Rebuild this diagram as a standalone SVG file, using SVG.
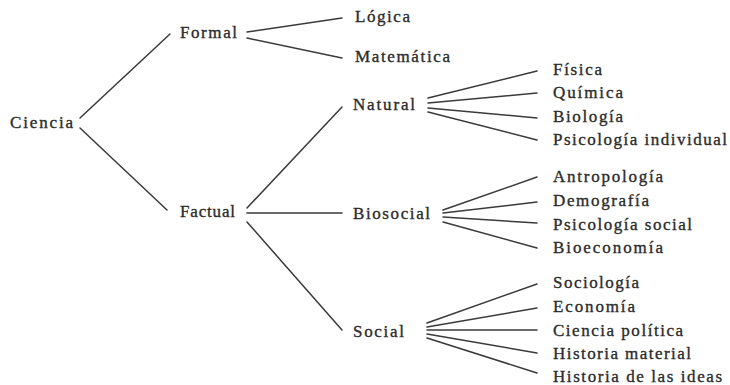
<svg xmlns="http://www.w3.org/2000/svg" width="730" height="385" viewBox="0 0 730 385">
<style>
  .t { font-family: "Liberation Serif", "Times New Roman", serif; font-size: 17px; fill: #2b2b2b; stroke: #2b2b2b; stroke-width: 0.35px; }
  .c line { stroke: #3a3a3a; stroke-width: 1.5; stroke-linecap: round; }
</style>
<rect width="730" height="385" fill="#ffffff"/>
<g id="connectors" class="c">
  <line x1="80" y1="118" x2="170" y2="34"/>
  <line x1="80" y1="128" x2="167" y2="210"/>
  <line x1="247" y1="32" x2="342" y2="18"/>
  <line x1="247" y1="38" x2="342" y2="58"/>
  <line x1="247" y1="208" x2="342" y2="107"/>
  <line x1="247" y1="213" x2="342" y2="213"/>
  <line x1="247" y1="222" x2="342" y2="330"/>
  <line x1="428" y1="98" x2="537" y2="71"/>
  <line x1="428" y1="103" x2="537" y2="93"/>
  <line x1="428" y1="108" x2="537" y2="118"/>
  <line x1="428" y1="112" x2="537" y2="140"/>
  <line x1="443" y1="210" x2="537" y2="177"/>
  <line x1="443" y1="213" x2="537" y2="202"/>
  <line x1="443" y1="217" x2="537" y2="223"/>
  <line x1="443" y1="222" x2="537" y2="248"/>
  <line x1="427" y1="323" x2="537" y2="284"/>
  <line x1="427" y1="327" x2="537" y2="308"/>
  <line x1="427" y1="330" x2="537" y2="330"/>
  <line x1="427" y1="334" x2="537" y2="353"/>
  <line x1="427" y1="338" x2="537" y2="373"/>
</g>
<g id="ciencia"><text class="t" x="10" y="128" textLength="63" lengthAdjust="spacing">Ciencia</text></g>
<g id="formal"><text class="t" x="180" y="38" textLength="57" lengthAdjust="spacing">Formal</text></g>
<g id="factual"><text class="t" x="180" y="217" textLength="55" lengthAdjust="spacing">Factual</text></g>
<g id="logica"><text class="t" x="355" y="22" textLength="55" lengthAdjust="spacing">Lógica</text></g>
<g id="matematica"><text class="t" x="355" y="62" textLength="95" lengthAdjust="spacing">Matemática</text></g>
<g id="natural"><text class="t" x="353" y="110" textLength="62" lengthAdjust="spacing">Natural</text></g>
<g id="biosocial"><text class="t" x="353" y="219" textLength="77" lengthAdjust="spacing">Biosocial</text></g>
<g id="social"><text class="t" x="353" y="337" textLength="51" lengthAdjust="spacing">Social</text></g>
<g id="fisica"><text class="t" x="553" y="75" textLength="49" lengthAdjust="spacing">Física</text></g>
<g id="quimica"><text class="t" x="553" y="98" textLength="70" lengthAdjust="spacing">Química</text></g>
<g id="biologia"><text class="t" x="553" y="122" textLength="70" lengthAdjust="spacing">Biología</text></g>
<g id="psico-ind"><text class="t" x="553" y="145" textLength="174" lengthAdjust="spacing">Psicología individual</text></g>
<g id="antropologia"><text class="t" x="553" y="182" textLength="110" lengthAdjust="spacing">Antropología</text></g>
<g id="demografia"><text class="t" x="553" y="206" textLength="96" lengthAdjust="spacing">Demografía</text></g>
<g id="psico-soc"><text class="t" x="553" y="230" textLength="139" lengthAdjust="spacing">Psicología social</text></g>
<g id="bioeconomia"><text class="t" x="553" y="253" textLength="110" lengthAdjust="spacing">Bioeconomía</text></g>
<g id="sociologia"><text class="t" x="553" y="288" textLength="86" lengthAdjust="spacing">Sociología</text></g>
<g id="economia"><text class="t" x="553" y="312" textLength="82" lengthAdjust="spacing">Economía</text></g>
<g id="ciencia-pol"><text class="t" x="553" y="336" textLength="130" lengthAdjust="spacing">Ciencia política</text></g>
<g id="hist-mat"><text class="t" x="553" y="359" textLength="138" lengthAdjust="spacing">Historia material</text></g>
<g id="hist-ideas"><text class="t" x="553" y="382" textLength="169" lengthAdjust="spacing">Historia de las ideas</text></g>
</svg>
